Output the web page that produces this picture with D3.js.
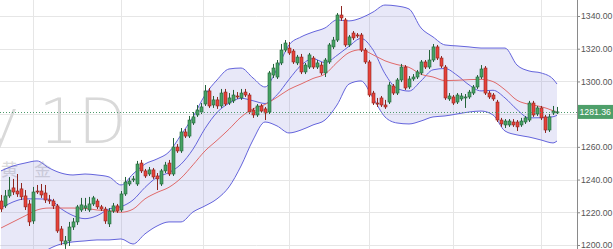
<!DOCTYPE html>
<html>
<head>
<meta charset="utf-8">
<script src="https://cdn.jsdelivr.net/npm/d3@7"></script>
<style>
  html, body { margin: 0; padding: 0; background: #fff; }
  svg { display: block; font-family: "Liberation Sans", Arial, sans-serif; }
</style>
</head>
<body>
<div id="chart"></div>
<script>
const UP_FILL = "#46a364";
const UP_STROKE = "#24633a";
const DOWN_FILL = "#e8423a";
const DOWN_STROKE = "#8e2620";
const BAND_COLOR = "#6464dc";
const MA_COLOR = "#e06a6a";
const GRID_COLOR = "#e6e6e6";

// daily candles, oldest first
const opens = [
  1226.9, 1223.9, 1230.0, 1234.9, 1233.0, 1234.3, 1230.0, 1225.1, 1214.7, 1233.0,
  1233.0, 1231.8, 1227.5, 1226.9, 1223.9, 1209.8, 1200.6, 1202.5, 1211.0, 1214.1,
  1221.4, 1222.6, 1221.4, 1225.1, 1226.9, 1223.3, 1222.0, 1212.9, 1220.8, 1223.9,
  1221.4, 1231.2, 1237.3, 1239.8, 1237.3, 1250.1, 1245.3, 1243.4, 1245.9, 1242.2,
  1237.3, 1245.3, 1250.1, 1243.4, 1259.9, 1257.5, 1269.1, 1266.6, 1274.6, 1279.5,
  1281.3, 1286.2, 1294.2, 1285.6, 1288.7, 1285.0, 1293.5, 1286.8, 1288.1, 1291.1,
  1289.9, 1293.5, 1291.7, 1282.5, 1279.5, 1285.0, 1283.2, 1281.3, 1303.9, 1302.7,
  1311.3, 1319.2, 1320.4, 1318.6, 1311.3, 1314.9, 1305.8, 1308.8, 1314.3, 1308.8,
  1310.0, 1305.2, 1311.9, 1321.1, 1325.3, 1340.6, 1337.6, 1322.3, 1329.6, 1328.4,
  1328.4, 1319.2, 1311.9, 1292.9, 1286.8, 1289.9, 1285.6, 1287.4, 1297.2, 1292.9,
  1300.9, 1308.8, 1296.6, 1301.5, 1302.7, 1305.2, 1311.9, 1308.8, 1313.1, 1321.1,
  1314.3, 1308.8, 1289.3, 1290.5, 1287.4, 1289.3, 1289.9, 1290.5, 1292.9, 1296.6,
  1302.7, 1308.2, 1292.9, 1291.7, 1287.4, 1276.4, 1273.4, 1273.4, 1275.2, 1275.2,
  1273.4, 1275.2, 1276.4, 1286.8, 1280.1, 1283.8, 1278.3, 1270.3, 1280.7, 1281.3
];
const highs = [
  1230.6, 1233.6, 1241.6, 1240.4, 1243.4, 1237.9, 1233.6, 1227.5, 1235.5, 1236.7,
  1237.3, 1236.7, 1230.6, 1228.2, 1225.1, 1211.6, 1205.5, 1214.1, 1216.5, 1224.5,
  1228.8, 1228.8, 1229.4, 1230.0, 1228.2, 1224.5, 1223.3, 1222.6, 1225.7, 1225.1,
  1233.0, 1241.6, 1241.0, 1242.2, 1251.4, 1252.0, 1246.5, 1247.7, 1247.1, 1244.0,
  1246.5, 1250.8, 1252.0, 1265.4, 1261.7, 1271.5, 1270.9, 1278.9, 1281.3, 1285.6,
  1286.8, 1297.8, 1296.0, 1291.1, 1290.5, 1295.4, 1295.4, 1292.9, 1294.8, 1293.5,
  1295.4, 1295.4, 1292.9, 1283.8, 1286.2, 1286.2, 1284.4, 1306.4, 1310.7, 1313.1,
  1322.9, 1325.3, 1324.1, 1319.8, 1316.2, 1316.8, 1311.3, 1317.4, 1315.5, 1313.1,
  1311.9, 1314.3, 1323.5, 1327.2, 1341.8, 1346.1, 1338.8, 1328.4, 1330.8, 1329.6,
  1329.6, 1320.4, 1313.1, 1294.2, 1289.9, 1291.1, 1288.7, 1299.6, 1298.4, 1302.1,
  1310.7, 1310.0, 1303.3, 1304.5, 1307.0, 1313.1, 1313.1, 1319.2, 1322.9, 1322.3,
  1315.5, 1310.0, 1292.9, 1291.7, 1292.9, 1292.9, 1292.3, 1294.8, 1297.8, 1303.9,
  1310.0, 1309.4, 1294.2, 1292.9, 1288.7, 1277.7, 1277.0, 1277.0, 1277.0, 1276.4,
  1277.7, 1278.9, 1288.1, 1288.1, 1285.0, 1285.0, 1279.5, 1280.1, 1285.0, 1284.4
];
const lows = [
  1220.2, 1222.6, 1228.8, 1230.6, 1229.4, 1227.5, 1221.4, 1211.6, 1212.9, 1231.2,
  1228.8, 1225.7, 1225.1, 1222.0, 1207.4, 1200.0, 1197.6, 1199.4, 1209.2, 1212.3,
  1220.2, 1220.8, 1220.2, 1223.9, 1222.0, 1220.8, 1212.9, 1211.0, 1219.6, 1219.6,
  1220.2, 1230.0, 1236.1, 1238.5, 1236.1, 1244.0, 1241.0, 1242.2, 1240.4, 1233.6,
  1236.1, 1244.0, 1242.2, 1242.2, 1256.3, 1256.3, 1265.4, 1265.4, 1273.4, 1278.3,
  1280.1, 1285.0, 1283.8, 1283.8, 1283.2, 1283.8, 1285.0, 1285.6, 1286.8, 1289.3,
  1288.7, 1290.5, 1280.1, 1277.7, 1278.3, 1280.7, 1276.4, 1280.1, 1302.1, 1301.5,
  1310.0, 1318.0, 1316.2, 1310.7, 1310.0, 1304.5, 1304.5, 1307.6, 1307.6, 1307.6,
  1303.9, 1302.7, 1310.7, 1319.8, 1324.1, 1337.0, 1321.1, 1321.1, 1325.3, 1326.6,
  1318.0, 1310.7, 1290.5, 1285.6, 1284.4, 1284.4, 1283.2, 1286.2, 1291.7, 1291.7,
  1299.6, 1294.8, 1295.4, 1300.3, 1301.5, 1303.9, 1307.6, 1307.6, 1311.9, 1313.1,
  1308.2, 1288.7, 1288.1, 1285.6, 1286.2, 1288.1, 1283.8, 1289.3, 1291.7, 1295.4,
  1301.5, 1291.7, 1289.3, 1288.1, 1275.2, 1272.2, 1271.5, 1272.2, 1272.2, 1269.7,
  1272.2, 1274.0, 1275.2, 1278.3, 1278.9, 1276.4, 1268.5, 1269.1, 1279.5, 1280.1
];
const closes = [
  1222.0, 1230.0, 1233.6, 1232.4, 1231.2, 1229.4, 1223.3, 1214.1, 1232.4, 1232.7,
  1230.6, 1227.5, 1226.9, 1223.9, 1208.6, 1202.5, 1202.5, 1211.0, 1214.1, 1223.3,
  1224.5, 1223.9, 1225.1, 1228.8, 1223.3, 1222.0, 1214.7, 1220.8, 1223.9, 1220.8,
  1231.2, 1238.5, 1239.1, 1240.4, 1249.5, 1245.3, 1242.2, 1245.9, 1241.6, 1240.4,
  1245.3, 1248.9, 1243.4, 1259.9, 1257.5, 1269.1, 1266.6, 1276.4, 1278.3, 1282.5,
  1284.4, 1294.2, 1285.0, 1288.7, 1285.0, 1292.9, 1286.2, 1289.9, 1291.7, 1290.5,
  1292.9, 1291.7, 1281.3, 1279.5, 1285.0, 1281.9, 1280.7, 1305.2, 1308.2, 1311.3,
  1319.2, 1323.5, 1317.4, 1311.9, 1314.9, 1305.8, 1310.0, 1316.2, 1308.8, 1311.3,
  1305.2, 1313.1, 1322.3, 1325.3, 1340.6, 1338.8, 1322.3, 1327.2, 1326.6, 1327.8,
  1319.2, 1311.9, 1291.7, 1286.8, 1286.2, 1285.6, 1284.4, 1297.8, 1292.9, 1300.9,
  1308.8, 1296.0, 1301.5, 1302.7, 1305.8, 1311.9, 1308.8, 1313.1, 1321.1, 1314.3,
  1309.4, 1289.9, 1291.1, 1286.8, 1291.7, 1291.1, 1290.5, 1293.5, 1296.6, 1302.7,
  1307.6, 1292.9, 1290.5, 1289.3, 1276.4, 1274.0, 1275.8, 1275.8, 1273.4, 1272.2,
  1275.8, 1277.7, 1286.8, 1279.5, 1283.8, 1277.7, 1270.3, 1278.3, 1281.9, 1281.36
];

// indicator lines, read every third candle
const lineIdx = [
  0, 3, 6, 9, 12, 15, 18, 21, 24, 27, 30, 33, 36, 39, 42, 45, 48, 51, 54, 57,
  60, 63, 66, 69, 72, 75, 78, 81, 84, 87, 90, 93, 96, 99, 102, 105, 108, 111, 114, 117,
  120, 123, 126, 129, 132, 135, 138, 139
];
const upperBand = [
  1245.3, 1248.3, 1250.1, 1251.4, 1247.1, 1244.0, 1242.8, 1243.4, 1242.8, 1241.6,
  1236.7, 1243.4, 1249.5, 1252.6, 1256.9, 1267.3, 1278.3, 1291.7, 1300.9, 1307.6,
  1308.2, 1302.1, 1296.6, 1307.6, 1322.3, 1327.2, 1330.2, 1332.7, 1337.6, 1337.0,
  1338.8, 1342.4, 1346.7, 1346.1, 1344.3, 1332.7, 1327.2, 1322.3, 1321.7, 1321.1,
  1320.4, 1320.4, 1320.4, 1310.0, 1306.4, 1305.2, 1301.5, 1298.4
];
const middleBand = [
  1210.4, 1214.1, 1217.8, 1221.4, 1222.6, 1222.6, 1222.6, 1222.4, 1221.4, 1220.9,
  1220.0, 1221.9, 1228.2, 1232.1, 1235.3, 1240.9, 1249.0, 1257.5, 1264.0, 1270.8,
  1278.2, 1283.2, 1285.9, 1290.3, 1295.1, 1298.4, 1301.8, 1304.5, 1311.6, 1317.6,
  1319.4, 1316.3, 1312.6, 1310.3, 1308.6, 1304.4, 1302.7, 1300.5, 1300.7, 1301.1,
  1301.3, 1299.9, 1294.9, 1288.5, 1286.0, 1284.6, 1282.1, 1281.0
];
const lowerBand = [
  1175.6, 1181.7, 1187.8, 1192.7, 1197.6, 1200.6, 1201.9, 1202.5, 1203.1, 1203.1,
  1203.7, 1200.6, 1206.8, 1211.6, 1214.1, 1214.1, 1220.2, 1223.9, 1228.2, 1235.5,
  1248.3, 1264.2, 1275.2, 1272.8, 1268.5, 1270.3, 1273.4, 1276.4, 1285.6, 1298.4,
  1300.3, 1289.9, 1278.3, 1274.6, 1274.0, 1275.8, 1278.3, 1278.9, 1280.1, 1281.3,
  1281.9, 1279.5, 1269.7, 1267.3, 1266.0, 1264.2, 1262.4, 1263.6
];
const fastMa = [
  1222.6, 1226.3, 1228.2, 1228.2, 1228.0, 1222.2, 1218.0, 1216.1, 1217.9, 1222.0,
  1223.4, 1227.5, 1235.2, 1241.4, 1244.3, 1249.4, 1258.6, 1271.2, 1281.0, 1286.7,
  1289.7, 1288.2, 1286.5, 1291.8, 1301.2, 1309.8, 1313.9, 1311.5, 1315.9, 1321.5,
  1326.3, 1319.3, 1304.7, 1295.7, 1294.1, 1300.3, 1307.1, 1307.9, 1303.8, 1297.9,
  1294.2, 1294.6, 1289.9, 1282.8, 1277.7, 1277.8, 1278.4, 1279.3
];

const gridPrices = [1200, 1220, 1240, 1260, 1280, 1300, 1320, 1340];
const axisLabels = [1200, 1220, 1240, 1260, 1300, 1320, 1340];
const monthStarts = [8, 30, 50.5, 72, 92, 113, 135];
const lastPrice = 1281.36;

const width = 613;
const height = 249;
const plotRight = 577;

const x = d3.scaleLinear().domain([0, closes.length - 1]).range([1, 557]);
const y = d3.scaleLinear().domain([1200, 1340]).range([245, 16]);

const svg = d3.select("#chart")
  .append("svg")
  .attr("width", width)
  .attr("height", height);

svg.append("rect").attr("width", width).attr("height", height).attr("fill", "#fff");

svg.append("defs").append("clipPath").attr("id", "plot-clip")
  .append("rect").attr("x", 0).attr("y", 0).attr("width", plotRight).attr("height", height);

const plot = svg.append("g").attr("clip-path", "url(#plot-clip)");

// grid
plot.append("g")
  .selectAll("line")
  .data(gridPrices)
  .join("line")
  .attr("x1", 0).attr("x2", plotRight)
  .attr("y1", d => Math.round(y(d)) + 0.5)
  .attr("y2", d => Math.round(y(d)) + 0.5)
  .attr("stroke", GRID_COLOR);

plot.append("g")
  .selectAll("line")
  .data(monthStarts)
  .join("line")
  .attr("x1", d => Math.round(x(d)) + 0.5)
  .attr("x2", d => Math.round(x(d)) + 0.5)
  .attr("y1", 0).attr("y2", height)
  .attr("stroke", GRID_COLOR);

// watermark
plot.append("text")
  .attr("x", 126).attr("y", 143)
  .attr("text-anchor", "end")
  .attr("font-family", "DejaVu Sans")
  .attr("font-weight", 200)
  .attr("font-size", 62)
  .attr("fill", "#d9d9d9")
  .text("ly 1D");

plot.append("text")
  .attr("x", 1).attr("y", 176)
  .attr("font-family", "Noto Sans CJK SC")
  .attr("font-size", 17)
  .attr("letter-spacing", 16)
  .attr("fill", "#dadada")
  .text("黄金");

// bollinger band
const bandPts = lineIdx.map((d, k) => ({ i: d, up: upperBand[k], mid: middleBand[k], lo: lowerBand[k], fast: fastMa[k] }));

plot.append("path")
  .datum(bandPts)
  .attr("fill", "rgba(120,120,215,0.17)")
  .attr("d", d3.area().curve(d3.curveMonotoneX)
    .x(d => x(d.i)).y0(d => y(d.lo)).y1(d => y(d.up)));

const lineFor = key => d3.line().curve(d3.curveMonotoneX).x(d => x(d.i)).y(d => y(d[key]));

["up", "lo", "fast"].forEach(key => {
  plot.append("path")
    .datum(bandPts)
    .attr("fill", "none")
    .attr("stroke", BAND_COLOR)
    .attr("stroke-width", 1)
    .attr("d", lineFor(key));
});

plot.append("path")
  .datum(bandPts)
  .attr("fill", "none")
  .attr("stroke", MA_COLOR)
  .attr("stroke-width", 1)
  .attr("d", lineFor("mid"));

// candles
const candles = closes.map((c, i) => ({ i: i, o: opens[i], h: highs[i], l: lows[i], c: c }));

const cg = plot.append("g")
  .selectAll("g")
  .data(candles)
  .join("g");

cg.append("line")
  .attr("x1", d => Math.round(x(d.i)) + 0.5)
  .attr("x2", d => Math.round(x(d.i)) + 0.5)
  .attr("y1", d => y(d.h))
  .attr("y2", d => y(d.l))
  .attr("stroke", d => d.c >= d.o ? UP_STROKE : DOWN_STROKE)
  .attr("stroke-width", 1);

cg.append("rect")
  .attr("x", d => Math.round(x(d.i)) - 1)
  .attr("width", 3)
  .attr("y", d => y(Math.max(d.o, d.c)))
  .attr("height", d => Math.max(1, Math.abs(y(d.o) - y(d.c))))
  .attr("fill", d => d.c >= d.o ? UP_FILL : DOWN_FILL)
  .attr("stroke", d => d.c >= d.o ? UP_STROKE : DOWN_STROKE)
  .attr("stroke-width", 0.6);

// last price line
plot.append("line")
  .attr("x1", 0).attr("x2", plotRight)
  .attr("y1", Math.round(y(lastPrice)) + 0.5)
  .attr("y2", Math.round(y(lastPrice)) + 0.5)
  .attr("stroke", "#4e9a6c")
  .attr("stroke-dasharray", "1,2");

// right price axis
svg.append("line")
  .attr("x1", plotRight + 0.5).attr("x2", plotRight + 0.5)
  .attr("y1", 0).attr("y2", height)
  .attr("stroke", "#8a8a8a");

const axis = svg.append("g")
  .attr("transform", `translate(${plotRight},0)`)
  .call(d3.axisRight(y)
    .tickValues(axisLabels)
    .tickFormat(d3.format(".2f"))
    .tickSize(3)
    .tickSizeOuter(0)
    .tickPadding(1));

axis.select(".domain").remove();
axis.selectAll(".tick line").attr("stroke", "#8a8a8a");
axis.selectAll(".tick text")
  .attr("fill", "#555")
  .attr("font-size", 8.7)
  .attr("font-family", "Liberation Sans, Arial, sans-serif");

const tag = svg.append("g").attr("transform", `translate(${plotRight},${y(lastPrice)})`);
tag.append("rect")
  .attr("x", 1).attr("y", -7)
  .attr("width", width - plotRight - 1).attr("height", 14)
  .attr("fill", "#4e9f6a");
tag.append("text")
  .attr("x", 2.5).attr("y", 3.2)
  .attr("fill", "#fff")
  .attr("font-size", 8.7)
  .text(lastPrice.toFixed(2));
</script>
</body>
</html>
